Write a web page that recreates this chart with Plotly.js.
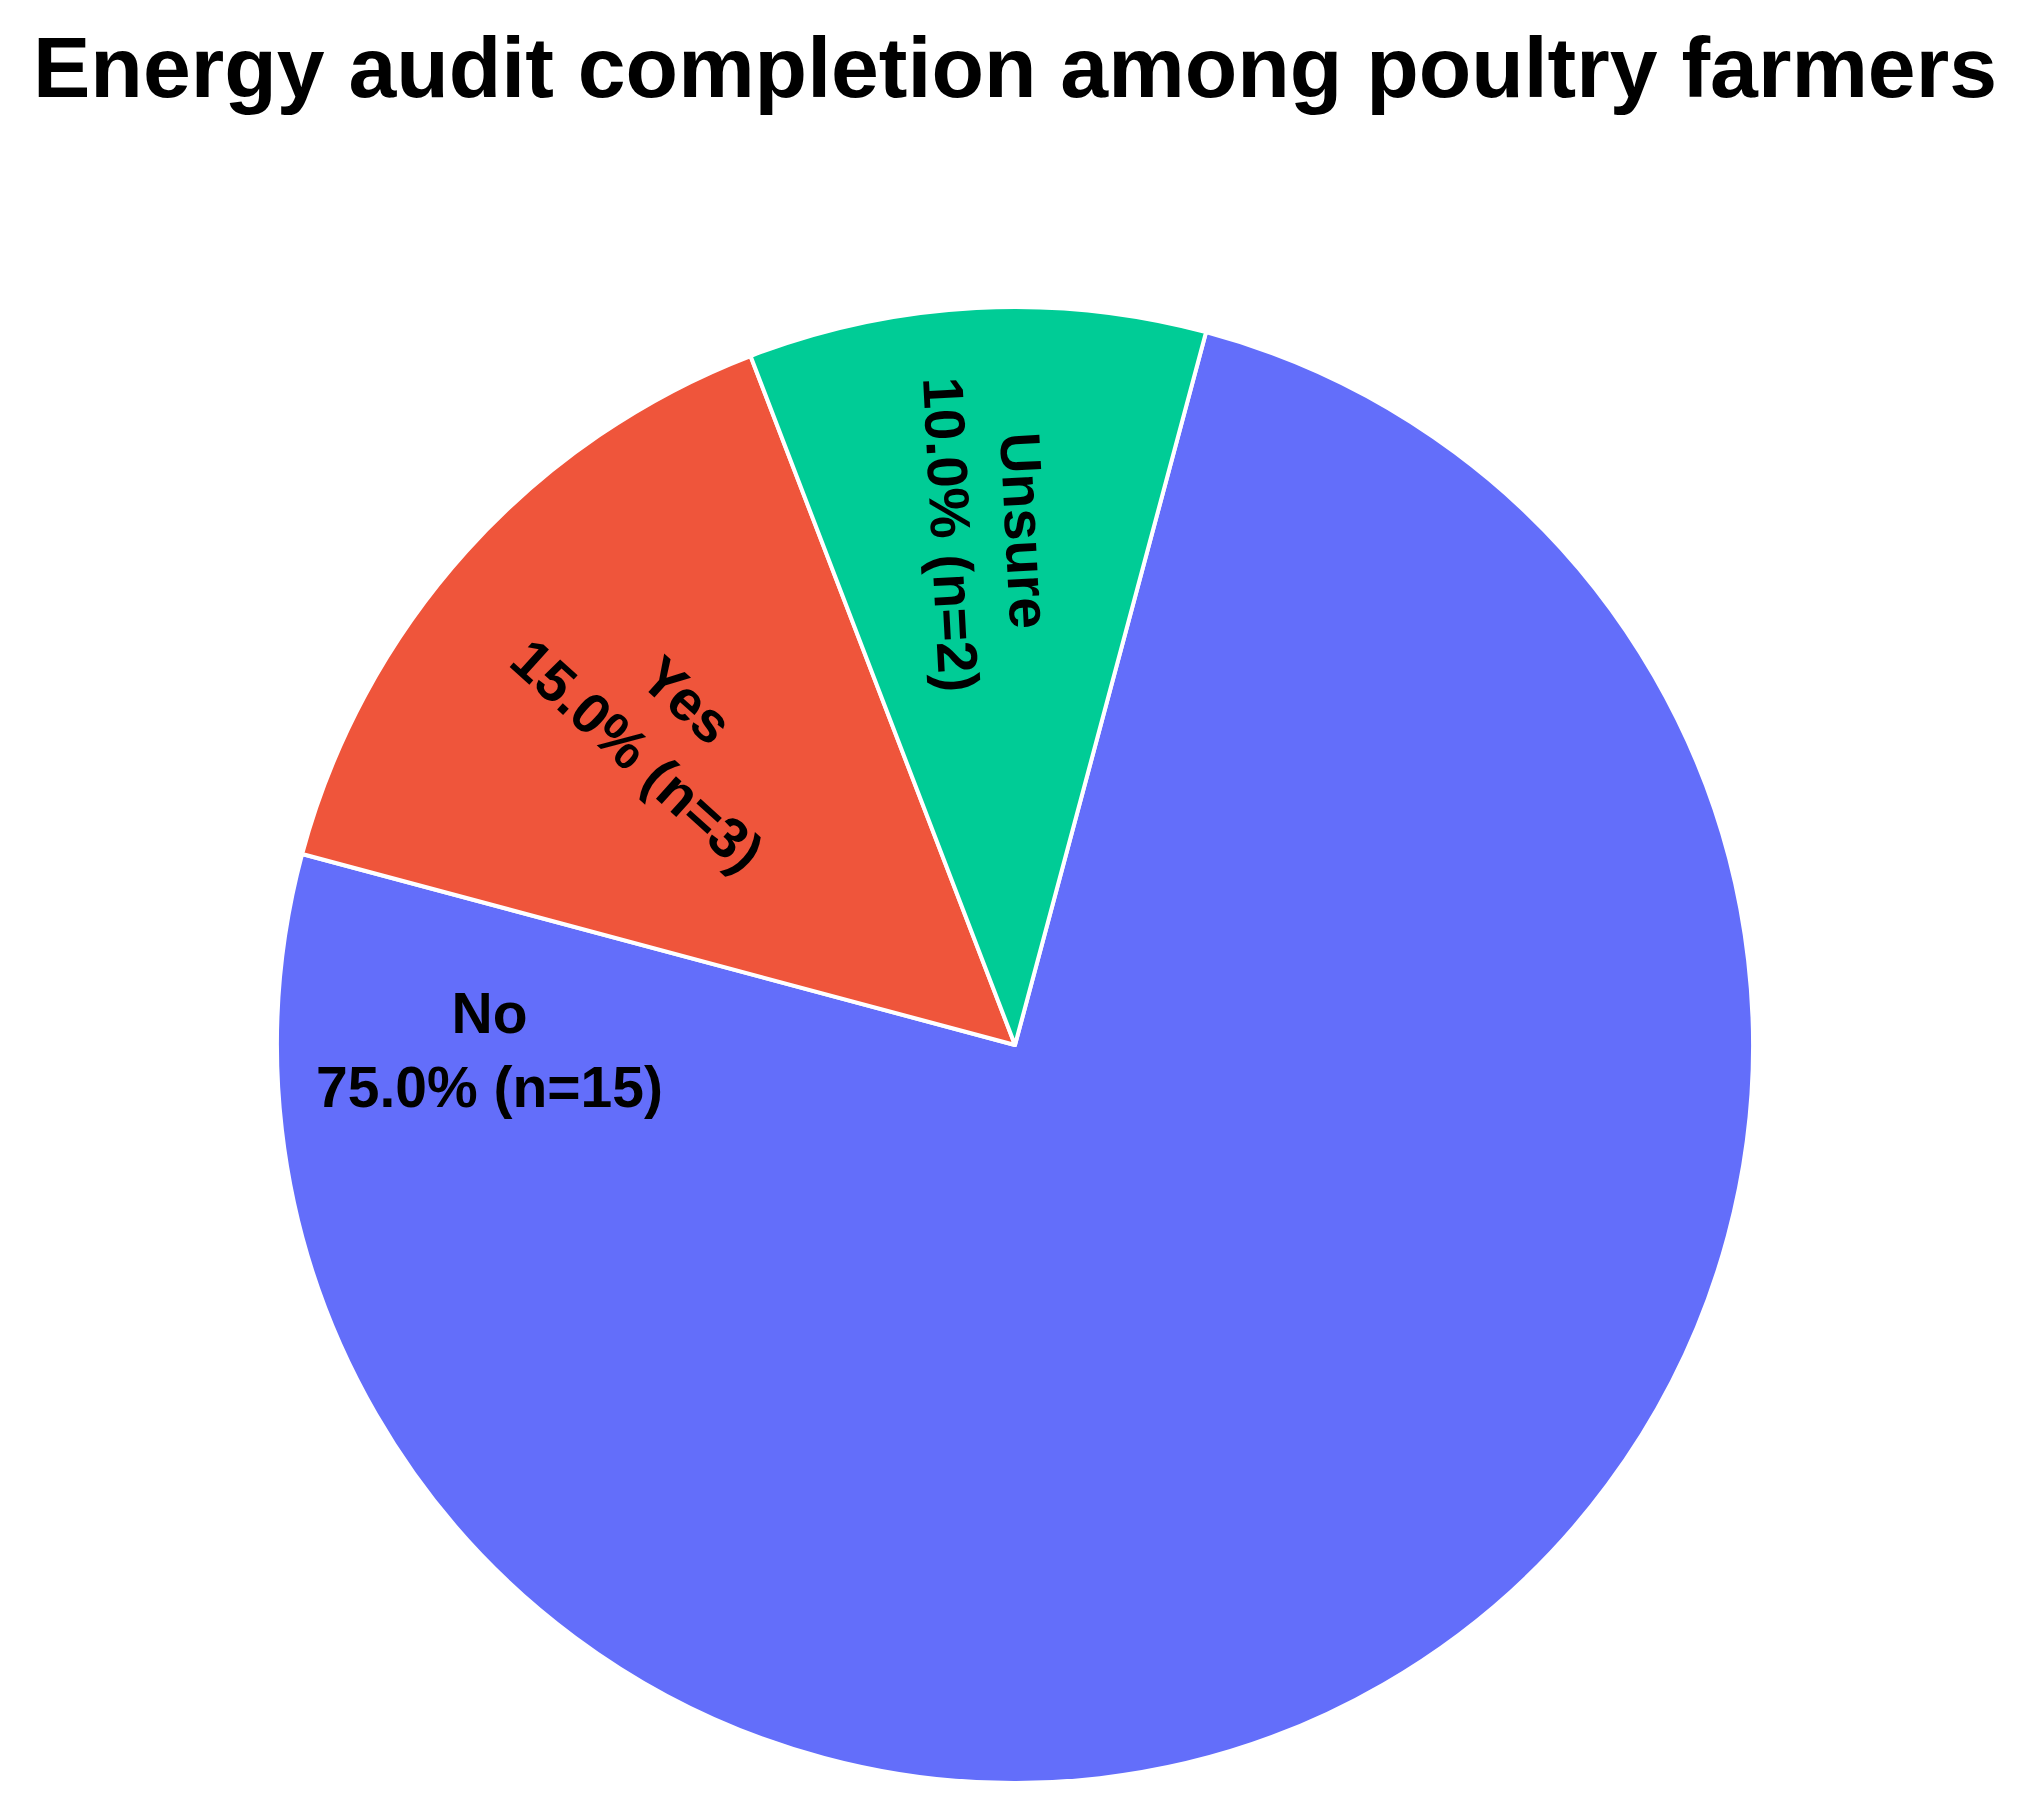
<!DOCTYPE html>
<html>
<head>
<meta charset="utf-8">
<script src="https://cdn.plot.ly/plotly-3.0.1.min.js"></script>
<style>html,body{margin:0;padding:0;background:#fff;}#chart{width:2030px;height:1816px;}</style>
</head>
<body>
<div id="chart"></div>
<script>
const labels = ['No', 'Yes', 'Unsure'];
const counts = [15, 3, 2];
const sliceColors = ['#636efa', '#EF553B', '#00cc96'];
const chartTitle = 'Energy audit completion among poultry farmers';

const total = counts.reduce((a, b) => a + b, 0);
const labelText = labels.map((l, i) => l + '<br>' + (100 * counts[i] / total).toFixed(1) + '% (n=' + counts[i] + ')');
// The largest slice's label is drawn as an annotation at the left of the slice, as in the reference
const sliceText = labelText.map((t, i) => i === 0 ? ' ' : t);

const labelFont = {family: 'Liberation Sans, Arial, sans-serif', size: 57, color: '#000000', weight: 'bold'};

const trace = {
  type: 'pie',
  labels: labels,
  values: counts,
  sort: false,
  direction: 'clockwise',
  rotation: 15,
  marker: {colors: sliceColors, line: {color: '#ffffff', width: 4}},
  text: sliceText,
  textinfo: 'text',
  textposition: 'inside',
  insidetextorientation: 'radial',
  textfont: labelFont,
  hoverinfo: 'none',
  showlegend: false
};

const layout = {
  width: 2030,
  height: 1816,
  paper_bgcolor: '#ffffff',
  plot_bgcolor: '#ffffff',
  margin: {l: 80, r: 80, t: 307, b: 33},
  showlegend: false,
  title: {
    text: '<b>' + chartTitle + '</b>',
    x: 0.5, xanchor: 'center',
    y: 1 - 67 / 1816, yanchor: 'middle', yref: 'container',
    font: {family: 'Liberation Sans, Arial, sans-serif', size: 86, color: '#000000'}
  },
  annotations: [{
    text: labelText[0],
    xref: 'paper', yref: 'paper',
    x: (489 - 80) / 1870, y: 1 - (1050 - 307) / 1476,
    xanchor: 'center', yanchor: 'middle',
    showarrow: false, align: 'center',
    font: labelFont
  }]
};

Plotly.newPlot('chart', [trace], layout, {displayModeBar: false, staticPlot: true});
</script>
</body>
</html>
